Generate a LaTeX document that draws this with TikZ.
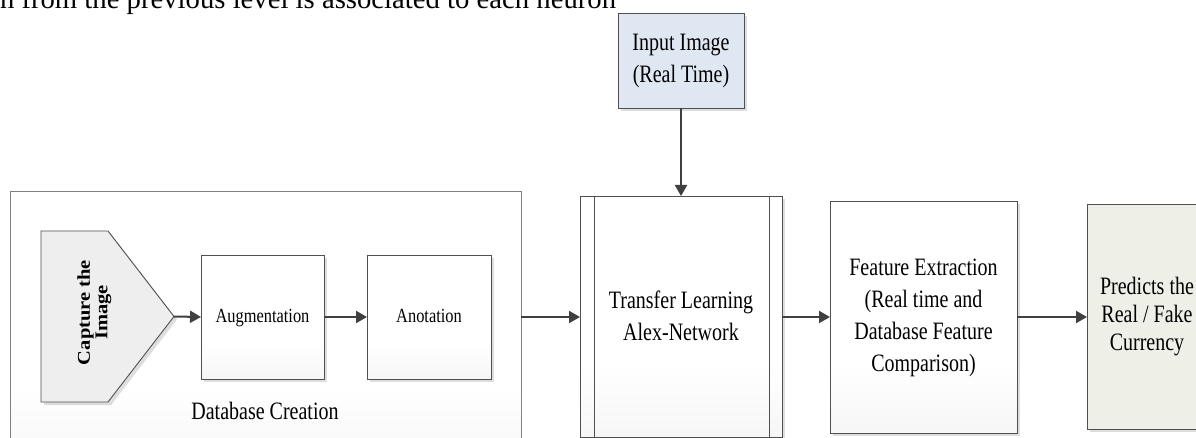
\documentclass[tikz,border=0pt]{standalone}
\usepackage{graphicx}
\usepackage{fontspec}
\setmainfont{Liberation Serif}
\usetikzlibrary{arrows.meta,shadows,calc}
\pgfdeclareverticalshading{boxshade}{100bp}{color(0bp)=(black!9); color(40bp)=(white); color(100bp)=(white)}
\definecolor{edge}{HTML}{505050}
\definecolor{arrowc}{HTML}{404040}
\definecolor{inputfill}{HTML}{DFE8F2}
\definecolor{predfill}{HTML}{EEF0E7}
\definecolor{capfill}{HTML}{EEEEEE}
\newcommand{\nar}[2][0.8]{\scalebox{#1}[1]{\begin{tabular}{@{}c@{}}#2\end{tabular}}}
\tikzset{
  shadowed/.style={drop shadow={shadow xshift=3pt, shadow yshift=-3pt, fill=black, opacity=0.13}},
  plainbox/.style={draw=edge, line width=0.9pt, inner sep=0pt, outer sep=0pt, shadowed},
  boxnode/.style={plainbox, shading=boxshade},
  dbbox/.style={draw=black!50, line width=0.9pt, shading=boxshade, inner sep=0pt, outer sep=0pt},
  bigfont/.style={font=\fontsize{25}{32}\selectfont},
  smallfont/.style={font=\fontsize{20}{26}\selectfont},
  conn/.style={draw=arrowc, line width=2pt, -{Triangle[length=11pt,width=12pt]}},
  lbl/.style={inner sep=0pt, outer sep=0pt},
}
\begin{document}
\begin{tikzpicture}[x=1pt,y=-1pt]
\useasboundingbox (0,0) rectangle (1196,438);
\clip (0,0) rectangle (1196,438);
\fill[white] (0,0) rectangle (1196,438);

% clipped page text at the top
\node[lbl, anchor=base west, font=\fontsize{28.7}{30}\selectfont] (pagetext) at (0,9) {n from the previous level is associated to each neuron};

% Database creation group
\node[dbbox, minimum width=511pt, minimum height=279pt] (db) at (265.5,330.5) {};
\node[lbl, bigfont] (dblabel) at (265,413) {\nar{Database Creation}};

% Capture the image (pentagon)
\path[draw=edge, line width=0.9pt, fill=capfill, shadowed] (41,231) -- (108,231) -- (174,316.5) -- (108,402) -- (41,402) -- cycle;
\coordinate (cap) at (174,316.5);
\node[lbl, rotate=90, font=\fontsize{18}{17.5}\selectfont\bfseries] (captxt) at (95,312.5) {\nar[1.14]{Capture the\\Image}};

% Augmentation and Anotation
\node[boxnode, smallfont, minimum width=123pt, minimum height=124pt] (aug) at (262.5,317) {\nar[0.82]{Augmentation}};
\node[boxnode, smallfont, minimum width=124pt, minimum height=124pt] (ano) at (429,317) {\nar[0.82]{Anotation}};

% Input image
\node[plainbox, bigfont, fill=inputfill, minimum width=126pt, minimum height=95pt] (inp) at (681,60.5) {\nar{Input Image\\(Real Time)}};

% Transfer learning (predefined process)
\node[boxnode, bigfont, minimum width=202pt, minimum height=241pt] (tl) at (681,316.5) {};
\draw[edge, line width=0.9pt] ($(tl.north west)+(14,0)$) -- ($(tl.south west)+(14,0)$);
\draw[edge, line width=0.9pt] ($(tl.north east)+(-13,0)$) -- ($(tl.south east)+(-13,0)$);
\node[lbl, bigfont] (tltxt) at (681,318) {\nar{Transfer Learning\\Alex-Network}};

% Feature extraction
\node[boxnode, bigfont, minimum width=187pt, minimum height=232pt] (fe) at (923.5,317) {\nar{Feature Extraction\\(Real time and\\Database Feature\\Comparison)}};

% Prediction
\node[plainbox, font=\fontsize{25}{28}\selectfont, fill=predfill, minimum width=120pt, minimum height=225pt] (pr) at (1147,316.5) {\nar{Predicts the\\Real / Fake\\Currency}};

% connectors
\draw[conn] (inp.south) -- (tl.north);
\draw[conn] (cap) -- (aug.west);
\draw[conn] (aug.east) -- (ano.west);
\draw[conn] (db.east |- ano.east) -- (tl.west |- ano.east);
\draw[conn] (tl.east |- fe.west) -- (fe.west);
\draw[conn] (fe.east) -- (pr.west |- fe.east);
\end{tikzpicture}
\end{document}
